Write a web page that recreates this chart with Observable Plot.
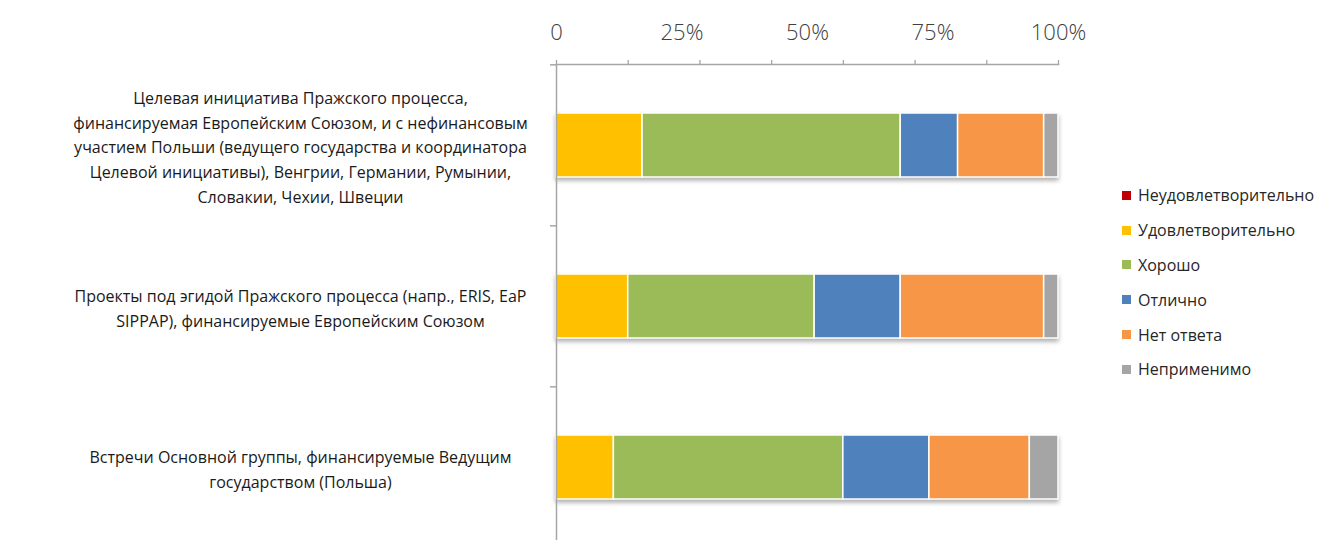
<!DOCTYPE html>
<html>
<head>
<meta charset="utf-8">
<script src="https://cdn.jsdelivr.net/npm/d3@7"></script>
<script src="https://cdn.jsdelivr.net/npm/@observablehq/plot@0.6"></script>
<style>
  html, body { margin: 0; padding: 0; background: #fff; }
  #wrap { position: relative; width: 1333px; height: 540px; font-family: "Open Sans", sans-serif; }
  #legend { position: absolute; left: 1122px; top: 178px; font-size: 16px; color: #262626; }
  #legend .item { display: flex; align-items: center; height: 34.8px; white-space: nowrap; }
  #legend .sw { width: 9px; height: 9px; margin-right: 7px; flex: none; }
</style>
</head>
<body>
<div id="wrap"><div id="chart"></div><div id="legend"></div></div>
<script>
const categories = [
  "Целевая инициатива Пражского процесса,\nфинансируемая Европейским Союзом, и с нефинансовым\nучастием Польши (ведущего государства и координатора\nЦелевой инициативы), Венгрии, Германии, Румынии,\nСловакии, Чехии, Швеции",
  "Проекты под эгидой Пражского процесса (напр., ERIS, EaP\nSIPPAP), финансируемые Европейским Союзом",
  "Встречи Основной группы, финансируемые Ведущим\nгосударством (Польша)"
];
const ratings = ["Неудовлетворительно", "Удовлетворительно", "Хорошо", "Отлично", "Нет ответа", "Неприменимо"];
const ratingColors = ["#C00000", "#FFC000", "#9BBB59", "#4F81BD", "#F79646", "#A5A5A5"];

// response counts per category (shares of 35 answers)
const unsatisfactory = [0, 0, 0];
const satisfactory   = [6, 5, 4];
const good           = [18, 13, 16];
const excellent      = [4, 6, 6];
const noAnswer       = [6, 10, 7];
const notApplicable  = [1, 1, 2];

const tickValues = [0, 0.25, 0.5, 0.75, 1];
const tickLabels = ["0", "25%", "50%", "75%", "100%"];
const minorTicks = d3.range(8).map(i => i / 7);

const series = [unsatisfactory, satisfactory, good, excellent, noAnswer, notApplicable];
const data = [];
categories.forEach((c, ci) => {
  ratings.forEach((r, ri) => data.push({category: c, rating: r, value: series[ri][ci]}));
});

const W = 1333, H = 540;
const mTop = 64, mBottom = -8, mLeft = 556, mRight = W - 1058;
const step = (H - mBottom - mTop) / categories.length;
const axisGray = "#a6a6a6";

const chart = Plot.plot({
  width: W,
  height: H,
  marginTop: mTop,
  marginBottom: mBottom,
  marginLeft: mLeft,
  marginRight: mRight,
  style: {fontFamily: "Open Sans, sans-serif", background: "#fff", overflow: "visible"},
  x: {domain: [0, 1], axis: null, label: null},
  y: {domain: categories, paddingInner: 0.6, paddingOuter: 0.3, axis: null, label: null},
  color: {domain: ratings, range: ratingColors},
  marks: [
    Plot.barX(data, Plot.stackX({
      x: "value", y: "category", fill: "rating", offset: "normalize", order: ratings,
      stroke: "#fff", strokeWidth: 1.5
    })),
    Plot.frame({anchor: "top", stroke: axisGray, strokeWidth: 1.5}),
    Plot.ruleX([0], {stroke: axisGray, strokeWidth: 1.5}),
    Plot.axisX({anchor: "top", ticks: minorTicks, tickSize: 5, tickFormat: () => "", label: null, stroke: axisGray, strokeWidth: 1.3}),
    Plot.axisX({anchor: "top", ticks: tickValues, tickSize: 0, tickPadding: 25, label: null,
      tickFormat: (d, i) => tickLabels[i], fontSize: 22, fill: "#404040", fontWeight: 300}),
    Plot.axisY({tickSize: 6, tickFormat: () => "", label: null, dy: -step / 2, stroke: axisGray, strokeWidth: 1.5}),
    Plot.axisY({tickSize: 0, tickPadding: 0, textAnchor: "middle", dx: 300 - mLeft, label: null,
      fontSize: 16, lineHeight: 1.54, lineWidth: 1000, fill: "#1a1a1a"})
  ]
});
document.getElementById("chart").appendChild(chart);
d3.select(chart).selectAll('g[aria-label="bar"]').style("filter", "drop-shadow(0px 3px 2px rgba(0,0,0,0.3))");

const legend = d3.select("#legend");
ratings.forEach((r, i) => {
  const item = legend.append("div").attr("class", "item");
  item.append("div").attr("class", "sw").style("background", ratingColors[i]);
  item.append("span").text(r);
});
</script>
</body>
</html>
